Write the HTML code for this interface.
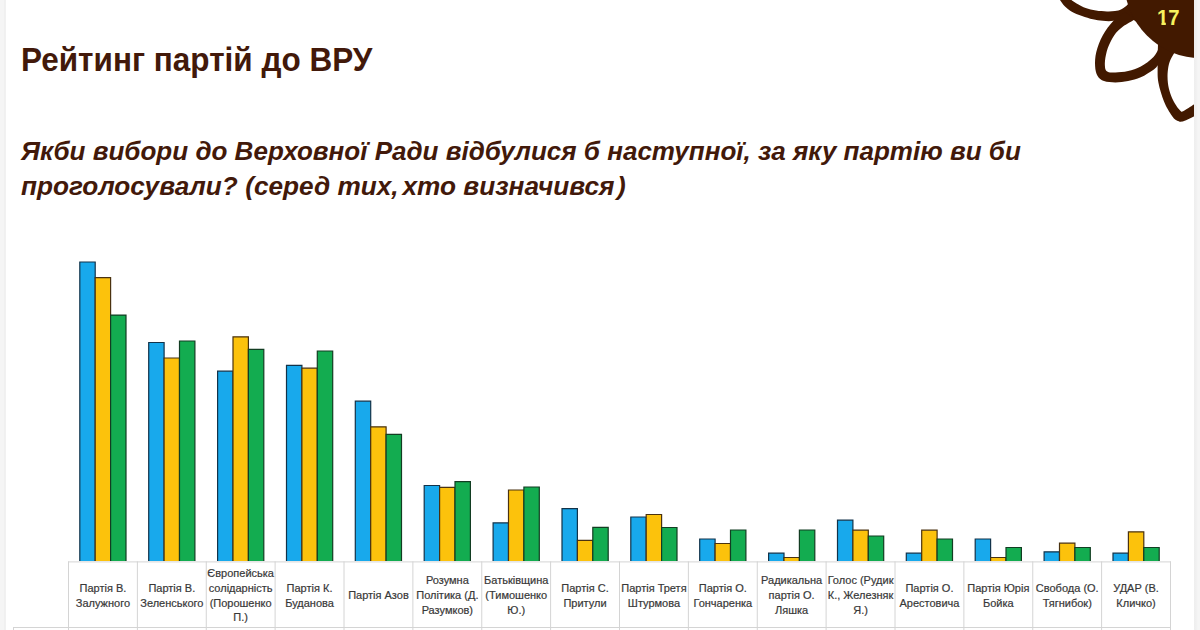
<!DOCTYPE html>
<html lang="uk">
<head>
<meta charset="utf-8">
<title>Рейтинг партій до ВРУ</title>
<style>
html,body{margin:0;padding:0;background:#fff;}
body{width:1200px;height:630px;overflow:hidden;position:relative;font-family:"Liberation Sans",sans-serif;}
.slide{position:absolute;left:0;top:0;width:1200px;height:630px;background:#fff;overflow:hidden;}
.strip-l{position:absolute;left:0;top:0;width:6px;height:630px;background:linear-gradient(90deg,#f5f5f5 0,#f5f5f5 3.5px,#f0f0f0 4.5px,#f1f1f1 5.5px,#fafafa 6px);}
.strip-r{position:absolute;left:1194px;top:0;width:6px;height:630px;background:linear-gradient(90deg,#eeeeee 0,#f0f0f0 2px,#f5f5f5 4px,#f5f5f5 6px);}
.art{position:absolute;left:0;top:0;}
h1{position:absolute;margin:0;left:20.6px;top:40.7px;font-size:33px;line-height:38px;font-weight:bold;color:#42190a;white-space:nowrap;transform-origin:0 0;transform:scaleX(0.9545);}
.q{position:absolute;margin:0;left:21px;font-size:26px;line-height:35px;font-weight:bold;font-style:italic;color:#42190a;white-space:nowrap;transform-origin:0 0;}
.q1{top:133.5px;transform:scaleX(1.0011);}
.q2{top:168.5px;transform:scaleX(1.0082);}
.num{position:absolute;left:1157px;top:4.6px;font-size:22.6px;line-height:26px;font-weight:bold;color:#f7f25e;white-space:nowrap;transform-origin:0 0;transform:scaleX(0.9);}
.one{display:inline-block;clip-path:polygon(0 0,13px 0,13px 17.3px,9.8px 17.3px,9.8px 26px,4.9px 26px,4.9px 17.3px,0 17.3px);}
.lab{position:absolute;top:563.2px;height:65px;display:flex;align-items:center;justify-content:center;text-align:center;font-size:11px;line-height:14.8px;color:#383838;-webkit-text-stroke:0.2px #383838;white-space:nowrap;}
</style>
</head>
<body>
<div class="slide">
<div class="strip-l"></div>
<svg class="art" width="1200" height="630" viewBox="0 0 1200 630">
<path fill="#421900" d="M1058.0 -3.0C1058.3 -2.5 1058.8 -1.6 1060.0 0.0C1061.2 1.6 1063.1 4.6 1065.0 6.5C1066.9 8.4 1068.6 9.8 1071.4 11.4C1074.2 13.0 1078.4 14.7 1082.0 16.0C1085.6 17.3 1089.5 18.5 1092.9 19.3C1096.4 20.1 1099.3 20.6 1102.7 20.8C1106.1 21.1 1109.8 21.4 1113.5 20.8C1117.2 20.2 1123.1 17.6 1125.0 17.0L1140 24L1140 -3Z"/>
<path fill="#fff" d="M1069.5 -3.0C1069.8 -2.5 1070.0 -1.2 1071.4 0.0C1072.8 1.2 1075.6 2.9 1078.0 4.2C1080.4 5.5 1082.7 6.9 1085.7 7.9C1088.7 9.0 1092.5 9.9 1096.0 10.5C1099.5 11.1 1103.8 11.3 1107.0 11.4C1110.2 11.5 1112.6 11.3 1115.0 11.0C1117.4 10.7 1119.2 10.4 1121.4 9.3C1123.6 8.2 1126.3 6.3 1127.9 4.3C1129.5 2.2 1130.5 -1.8 1131.0 -3.0Z"/>
<path fill="#421900" d="M1125.0 12.0C1123.1 13.5 1117.2 16.9 1113.5 20.8C1109.8 24.7 1105.6 30.2 1102.7 35.4C1099.8 40.6 1097.6 46.8 1096.3 51.9C1095.0 57.0 1094.9 61.9 1095.1 65.9C1095.3 69.9 1096.1 73.5 1097.6 76.0C1099.1 78.5 1101.0 80.0 1104.0 81.1C1107.0 82.2 1111.4 82.4 1115.4 82.4C1119.4 82.4 1123.9 81.9 1128.1 81.1C1132.3 80.2 1136.6 79.2 1140.8 77.3C1145.0 75.4 1150.5 71.8 1153.5 69.7C1156.5 67.6 1156.5 67.0 1158.6 64.6C1160.7 62.1 1164.8 56.6 1166.0 55.0L1160 35Z"/>
<path fill="#fff" d="M1142 26L1133.8 19.9C1132.0 21.0 1126.3 23.9 1123.0 26.5C1119.7 29.1 1116.6 31.8 1114.1 35.4C1111.6 39.0 1109.3 43.9 1107.8 48.1C1106.3 52.3 1105.4 57.4 1105.0 60.8C1104.6 64.2 1105.0 66.8 1105.2 68.5C1105.5 70.2 1106.3 70.6 1106.5 71.0C1106.9 71.2 1107.5 72.0 1109.0 72.2C1110.5 72.5 1112.2 72.7 1115.4 72.5C1118.6 72.3 1123.9 72.0 1128.1 71.0C1132.3 70.0 1136.6 68.8 1140.8 66.5C1145.0 64.2 1150.3 60.4 1153.5 57.0C1156.7 53.6 1158.2 49.0 1159.8 46.2C1161.4 43.4 1162.5 41.0 1163.0 40.0Z"/>
<path fill="#421900" d="M1158.0 44.0C1157.9 47.8 1157.5 60.1 1157.6 66.5C1157.7 72.9 1157.3 76.6 1158.4 82.4C1159.5 88.2 1161.8 95.9 1164.0 101.4C1166.2 107.0 1169.9 112.6 1171.9 115.7C1173.9 118.8 1174.7 119.0 1176.0 120.0C1177.3 121.0 1179.2 121.4 1179.8 121.7C1180.5 121.6 1181.7 121.9 1184.0 121.0C1186.3 120.1 1190.8 118.0 1193.8 116.5C1196.8 115.0 1200.6 112.8 1202.0 112.0L1202 40Z"/>
<path fill="#fff" d="M1177.0 48.0C1176.5 49.0 1175.0 51.5 1173.8 53.8C1172.6 56.1 1170.6 59.0 1169.6 62.0C1168.6 65.0 1168.0 68.5 1167.7 72.0C1167.4 75.5 1167.5 79.4 1167.9 83.0C1168.3 86.6 1169.3 90.3 1170.3 93.5C1171.3 96.7 1172.7 99.5 1174.0 102.0C1175.3 104.5 1177.1 106.9 1178.3 108.5C1179.5 110.1 1180.9 111.2 1181.4 111.7C1181.8 111.5 1181.9 112.0 1184.0 110.8C1186.1 109.6 1190.8 106.6 1193.8 104.6C1196.8 102.6 1200.6 99.9 1202.0 99.0L1202 48Z"/>
<circle cx="1201.7" cy="-19.2" r="77.5" fill="#421900"/>
</svg>
<div class="strip-r"></div>
<div class="num"><span class="one">1</span>7</div>
<h1>Рейтинг партій до ВРУ</h1>
<p class="q q1">Якби вибори до Верховної Ради відбулися б наступної, за яку партію ви би</p>
<p class="q q2">проголосували? (серед тих, <span style="margin-left:-3.4px">хто</span> визначився<span style="margin-left:2.6px">)</span></p>
<svg class="art" width="1200" height="630" viewBox="0 0 1200 630">

<g stroke-width="1.2" stroke-linejoin="miter">
<path d="M79.8 561.0V262.0H95.2V561.0" fill="#18a9ec" stroke="#12334a"/>
<path d="M95.2 561.0V277.7H110.6V561.0" fill="#fcc20c" stroke="#4a3210"/>
<path d="M110.6 561.0V315.1H126.0V561.0" fill="#13ac50" stroke="#123d22"/>
<path d="M148.7 561.0V342.5H164.1V561.0" fill="#18a9ec" stroke="#12334a"/>
<path d="M164.1 561.0V358.0H179.5V561.0" fill="#fcc20c" stroke="#4a3210"/>
<path d="M179.5 561.0V341.0H194.9V561.0" fill="#13ac50" stroke="#123d22"/>
<path d="M217.6 561.0V371.2H233.0V561.0" fill="#18a9ec" stroke="#12334a"/>
<path d="M233.0 561.0V336.8H248.4V561.0" fill="#fcc20c" stroke="#4a3210"/>
<path d="M248.4 561.0V349.4H263.8V561.0" fill="#13ac50" stroke="#123d22"/>
<path d="M286.5 561.0V365.4H301.9V561.0" fill="#18a9ec" stroke="#12334a"/>
<path d="M301.9 561.0V368.2H317.3V561.0" fill="#fcc20c" stroke="#4a3210"/>
<path d="M317.3 561.0V351.0H332.7V561.0" fill="#13ac50" stroke="#123d22"/>
<path d="M355.3 561.0V401.2H370.7V561.0" fill="#18a9ec" stroke="#12334a"/>
<path d="M370.7 561.0V426.8H386.1V561.0" fill="#fcc20c" stroke="#4a3210"/>
<path d="M386.1 561.0V434.3H401.5V561.0" fill="#13ac50" stroke="#123d22"/>
<path d="M424.2 561.0V485.5H439.6V561.0" fill="#18a9ec" stroke="#12334a"/>
<path d="M439.6 561.0V487.3H455.0V561.0" fill="#fcc20c" stroke="#4a3210"/>
<path d="M455.0 561.0V481.6H470.4V561.0" fill="#13ac50" stroke="#123d22"/>
<path d="M493.1 561.0V522.9H508.5V561.0" fill="#18a9ec" stroke="#12334a"/>
<path d="M508.5 561.0V490.0H523.9V561.0" fill="#fcc20c" stroke="#4a3210"/>
<path d="M523.9 561.0V487.0H539.3V561.0" fill="#13ac50" stroke="#123d22"/>
<path d="M562.0 561.0V508.7H577.4V561.0" fill="#18a9ec" stroke="#12334a"/>
<path d="M577.4 561.0V540.4H592.8V561.0" fill="#fcc20c" stroke="#4a3210"/>
<path d="M592.8 561.0V527.3H608.2V561.0" fill="#13ac50" stroke="#123d22"/>
<path d="M630.8 561.0V517.0H646.2V561.0" fill="#18a9ec" stroke="#12334a"/>
<path d="M646.2 561.0V514.5H661.6V561.0" fill="#fcc20c" stroke="#4a3210"/>
<path d="M661.6 561.0V527.5H677.0V561.0" fill="#13ac50" stroke="#123d22"/>
<path d="M699.7 561.0V539.0H715.1V561.0" fill="#18a9ec" stroke="#12334a"/>
<path d="M715.1 561.0V543.5H730.5V561.0" fill="#fcc20c" stroke="#4a3210"/>
<path d="M730.5 561.0V530.0H745.9V561.0" fill="#13ac50" stroke="#123d22"/>
<path d="M768.6 561.0V553.2H784.0V561.0" fill="#18a9ec" stroke="#12334a"/>
<path d="M784.0 561.0V557.5H799.4V561.0" fill="#fcc20c" stroke="#4a3210"/>
<path d="M799.4 561.0V530.0H814.8V561.0" fill="#13ac50" stroke="#123d22"/>
<path d="M837.5 561.0V520.2H852.9V561.0" fill="#18a9ec" stroke="#12334a"/>
<path d="M852.9 561.0V530.2H868.3V561.0" fill="#fcc20c" stroke="#4a3210"/>
<path d="M868.3 561.0V536.0H883.7V561.0" fill="#13ac50" stroke="#123d22"/>
<path d="M906.3 561.0V553.2H921.7V561.0" fill="#18a9ec" stroke="#12334a"/>
<path d="M921.7 561.0V530.2H937.1V561.0" fill="#fcc20c" stroke="#4a3210"/>
<path d="M937.1 561.0V539.0H952.5V561.0" fill="#13ac50" stroke="#123d22"/>
<path d="M975.2 561.0V539.0H990.6V561.0" fill="#18a9ec" stroke="#12334a"/>
<path d="M990.6 561.0V557.5H1006.0V561.0" fill="#fcc20c" stroke="#4a3210"/>
<path d="M1006.0 561.0V547.5H1021.4V561.0" fill="#13ac50" stroke="#123d22"/>
<path d="M1044.1 561.0V551.8H1059.5V561.0" fill="#18a9ec" stroke="#12334a"/>
<path d="M1059.5 561.0V543.2H1074.9V561.0" fill="#fcc20c" stroke="#4a3210"/>
<path d="M1074.9 561.0V547.5H1090.3V561.0" fill="#13ac50" stroke="#123d22"/>
<path d="M1113.0 561.0V553.2H1128.4V561.0" fill="#18a9ec" stroke="#12334a"/>
<path d="M1128.4 561.0V531.8H1143.8V561.0" fill="#fcc20c" stroke="#4a3210"/>
<path d="M1143.8 561.0V547.5H1159.2V561.0" fill="#13ac50" stroke="#123d22"/>
</g>
<g stroke="#d4d4d4" stroke-width="1" fill="none" shape-rendering="crispEdges">
<path d="M68.0 561.9H1171.0" shape-rendering="auto"/>
<path d="M13 627.5H1171.0"/>
<path d="M13.5 627.5V630"/>
<path d="M68.50 561.4V630" shape-rendering="auto"/>
<path d="M137.38 561.4V630" shape-rendering="auto"/>
<path d="M206.25 561.4V630" shape-rendering="auto"/>
<path d="M275.12 561.4V630" shape-rendering="auto"/>
<path d="M344.00 561.4V630" shape-rendering="auto"/>
<path d="M412.88 561.4V630" shape-rendering="auto"/>
<path d="M481.75 561.4V630" shape-rendering="auto"/>
<path d="M550.62 561.4V630" shape-rendering="auto"/>
<path d="M619.50 561.4V630" shape-rendering="auto"/>
<path d="M688.38 561.4V630" shape-rendering="auto"/>
<path d="M757.25 561.4V630" shape-rendering="auto"/>
<path d="M826.12 561.4V630" shape-rendering="auto"/>
<path d="M895.00 561.4V630" shape-rendering="auto"/>
<path d="M963.88 561.4V630" shape-rendering="auto"/>
<path d="M1032.75 561.4V630" shape-rendering="auto"/>
<path d="M1101.62 561.4V630" shape-rendering="auto"/>
<path d="M1170.50 561.4V630" shape-rendering="auto"/>
</g>
</svg>
<div class="lab" style="left:68.5px;width:68.9px"><span>Партія В.<br>Залужного</span></div>
<div class="lab" style="left:137.4px;width:68.9px"><span>Партія В.<br>Зеленського</span></div>
<div class="lab" style="left:206.2px;width:68.9px"><span>Європейська<br>солідарність<br>(Порошенко<br>П.)</span></div>
<div class="lab" style="left:275.1px;width:68.9px"><span>Партія К.<br>Буданова</span></div>
<div class="lab" style="left:344.0px;width:68.9px"><span>Партія Азов</span></div>
<div class="lab" style="left:412.9px;width:68.9px"><span>Розумна<br>Політика (Д.<br>Разумков)</span></div>
<div class="lab" style="left:481.8px;width:68.9px"><span>Батьківщина<br>(Тимошенко<br>Ю.)</span></div>
<div class="lab" style="left:550.6px;width:68.9px"><span>Партія С.<br>Притули</span></div>
<div class="lab" style="left:619.5px;width:68.9px"><span>Партія Третя<br>Штурмова</span></div>
<div class="lab" style="left:688.4px;width:68.9px"><span>Партія О.<br>Гончаренка</span></div>
<div class="lab" style="left:757.2px;width:68.9px"><span>Радикальна<br>партія О.<br>Ляшка</span></div>
<div class="lab" style="left:826.1px;width:68.9px"><span>Голос (Рудик<br>К., Железняк<br>Я.)</span></div>
<div class="lab" style="left:895.0px;width:68.9px"><span>Партія О.<br>Арестовича</span></div>
<div class="lab" style="left:963.9px;width:68.9px"><span>Партія Юрія<br>Бойка</span></div>
<div class="lab" style="left:1032.8px;width:68.9px"><span>Свобода (О.<br>Тягнибок)</span></div>
<div class="lab" style="left:1101.6px;width:68.9px"><span>УДАР (В.<br>Кличко)</span></div>
</div>
</body>
</html>
